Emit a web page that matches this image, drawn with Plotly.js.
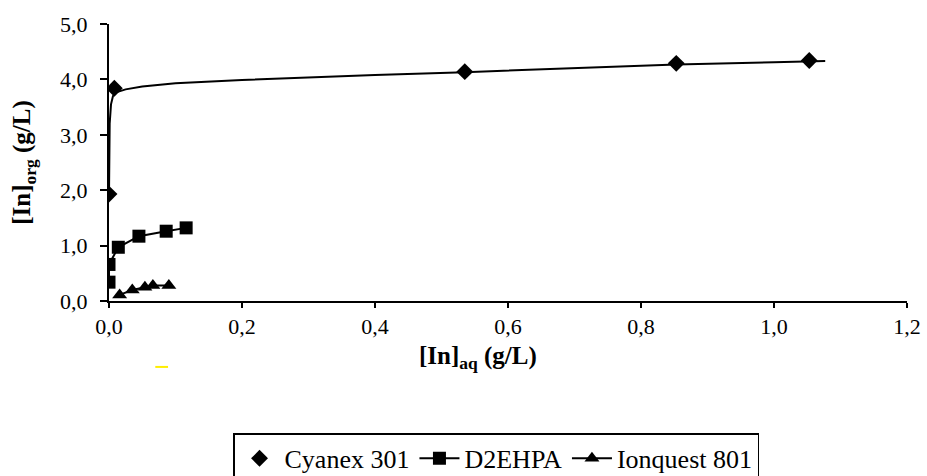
<!DOCTYPE html>
<html><head><meta charset="utf-8">
<script src="https://cdn.plot.ly/plotly-3.0.1.min.js"></script>
<style>html,body{margin:0;padding:0;background:#fff}#chart{width:927px;height:476px}</style>
</head><body><div id="chart"></div>
<script>
// Data
const cyanexX = [0.0, 0.008, 0.535, 0.853, 1.053];
const cyanexY = [1.93, 3.84, 4.14, 4.29, 4.34];
// trend curve for Cyanex 301
const trendX = [0.0, 0.001, 0.003, 0.006, 0.012, 0.025, 0.05, 0.1, 0.2, 0.3, 0.4, 0.535, 0.7, 0.853, 1.0, 1.077];
const trendY = [1.93, 3.2, 3.55, 3.7, 3.77, 3.82, 3.87, 3.93, 3.99, 4.04, 4.08, 4.13, 4.2, 4.27, 4.31, 4.33];
const d2X = [0.0, 0.0, 0.014, 0.045, 0.086, 0.116];
const d2Y = [0.34, 0.66, 0.97, 1.17, 1.26, 1.32];
const ionX = [0.016, 0.035, 0.054, 0.066, 0.09];
const ionY = [0.11, 0.2, 0.25, 0.28, 0.28];
const names = ['Cyanex 301', 'D2EHPA', 'Ionquest 801'];
const xTitle = '<b>[In]<sub>aq</sub> (g/L)</b>';
const yTitle = '<b>[In]<sub>org</sub> (g/L)</b>';

const font = 'Liberation Serif';
const traces = [
  {x: trendX, y: trendY, mode: 'lines', line: {color: '#000', width: 2}, showlegend: false, hoverinfo: 'skip'},
  {x: cyanexX, y: cyanexY, mode: 'markers', name: names[0], marker: {symbol: 'diamond', size: 13, color: '#000'}},
  {x: d2X, y: d2Y, mode: 'lines+markers', name: names[1], line: {color: '#000', width: 2}, marker: {symbol: 'square', size: 13, color: '#000'}},
  {x: ionX, y: ionY, mode: 'lines+markers', name: names[2], line: {color: '#000', width: 2}, marker: {symbol: 'triangle-up', size: 13, color: '#000'}}
];
const axisCommon = {
  showgrid: false, zeroline: false, showline: true, linecolor: '#000', linewidth: 2,
  ticks: 'outside', ticklen: 7, tickwidth: 2, tickcolor: '#000',
  tickfont: {family: font, size: 22, color: '#000'}, tickformat: '.1f', automargin: false
};
const layout = {
  width: 927, height: 476, separators: ', ',
  margin: {l: 109, r: 20, t: 24, b: 175, autoexpand: false},
  paper_bgcolor: '#fff', plot_bgcolor: '#fff',
  font: {family: font, color: '#000'},
  xaxis: Object.assign({}, axisCommon, {range: [0, 1.2], dtick: 0.2, ticklen: 5}),
  yaxis: Object.assign({}, axisCommon, {range: [0, 5], dtick: 1, ticklabelstandoff: 8,
    title: {text: yTitle, font: {family: font, size: 25, color: '#000'}, standoff: 22}}),
  annotations: [{text: xTitle, xref: 'paper', yref: 'paper', x: 0.462, y: -0.205, xanchor: 'center', yanchor: 'middle',
    showarrow: false, font: {family: font, size: 25, color: '#000'}}],
  showlegend: true,
  legend: {orientation: 'h', x: 0.485, xanchor: 'center', y: -0.478, yanchor: 'top',
    bordercolor: '#000', borderwidth: 1.5, font: {family: font, size: 26, color: '#000'},
    itemwidth: 40, tracegroupgap: 0},
  shapes: [{type: 'line', xref: 'paper', yref: 'paper', x0: 0.058, x1: 0.074, y0: -0.238, y1: -0.238, line: {color: '#ffee00', width: 2}}]
};
Plotly.newPlot('chart', traces, layout, {displayModeBar: false, staticPlot: true});
</script></body></html>
